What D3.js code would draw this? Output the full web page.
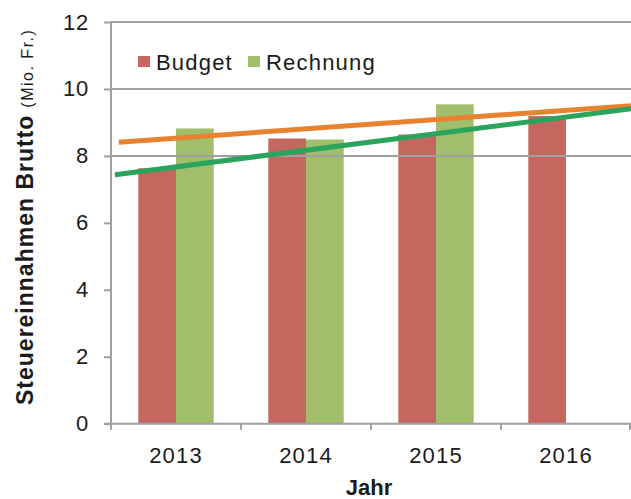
<!DOCTYPE html>
<html>
<head>
<meta charset="utf-8">
<script src="https://cdn.jsdelivr.net/npm/d3@7"></script>
<style>
    html, body { margin: 0; padding: 0; background: #fff; }
    svg { display: block; font-family: "Liberation Sans", Arial, Helvetica, sans-serif; }
</style>
</head>
<body>
<svg id="chart" width="631" height="499"></svg>
<script>
// Data (Mio. Fr.)
const years = ["2013", "2014", "2015", "2016"];
const budget = [7.63, 8.52, 8.64, 9.19];
const rechnung = [8.82, 8.49, 9.54, null];
const seriesNames = ["Budget", "Rechnung"];
const yTicks = [0, 2, 4, 6, 8, 10, 12];
const gridValues = [8, 10, 12];

// Trend lines: [year position, value] at both ends
const trendBudgetYears = [2012.53, 2016.5];
const trendBudgetValues = [7.44, 9.41];
const trendRechnungYears = [2012.56, 2016.5];
const trendRechnungValues = [8.41, 9.50];

const dimensions = {
    width: 631,
    height: 499,
    margin: { top: 22, bottom: 76, left: 111, right: 0 },
};
const plotBottom = dimensions.height - dimensions.margin.bottom + 0.7;

const colors = {
    Budget: "#c4685f",
    Rechnung: "#a0be6b",
    trendBudget: "#2aa35c",
    trendRechnung: "#e8822f",
    axis: "#a0a0a0",
    text: "#1a1a1a",
};

const svg = d3.select("#chart");

const xScale = d3.scaleBand()
    .domain(years)
    .range([dimensions.margin.left, dimensions.width - dimensions.margin.right])
    .paddingInner(0.42)
    .paddingOuter(0.21);

const xSub = d3.scaleBand()
    .domain(seriesNames)
    .range([0, xScale.bandwidth()]);

const xYear = d3.scaleLinear()
    .domain([2012.5, 2016.5])
    .range([dimensions.margin.left, dimensions.width - dimensions.margin.right]);

const yScale = d3.scaleLinear()
    .domain([0, 12])
    .range([plotBottom, dimensions.margin.top]);

// Bars
const rows = years.map((y, i) => ({ year: y, Budget: budget[i], Rechnung: rechnung[i] }));

const groups = svg.append("g").selectAll("g")
    .data(rows)
    .enter()
    .append("g")
    .attr("transform", d => `translate(${xScale(d.year)},0)`);

groups.selectAll("rect")
    .data(d => seriesNames.filter(s => d[s] != null).map(s => ({ key: s, value: d[s] })))
    .enter()
    .append("rect")
    .attr("x", d => xSub(d.key))
    .attr("width", xSub.bandwidth())
    .attr("y", d => yScale(d.value))
    .attr("height", d => yScale(0) - yScale(d.value))
    .attr("fill", d => colors[d.key]);

// Gridlines (only upper ones are drawn in the original)
svg.append("g")
    .selectAll("line")
    .data(gridValues)
    .enter()
    .append("line")
    .attr("x1", dimensions.margin.left)
    .attr("x2", dimensions.width)
    .attr("y1", d => yScale(d))
    .attr("y2", d => yScale(d))
    .attr("stroke", colors.axis)
    .attr("stroke-width", 2);

// Y axis
const yAxis = svg.append("g")
    .attr("transform", `translate(${dimensions.margin.left},0)`)
    .call(d3.axisLeft(yScale).tickValues(yTicks).tickSize(7).tickPadding(15).tickFormat(d3.format("d")));
yAxis.select(".domain").remove();
yAxis.append("line")
    .attr("x1", 0).attr("x2", 0)
    .attr("y1", yScale(12)).attr("y2", plotBottom + 6)
    .attr("stroke", colors.axis).attr("stroke-width", 2);
yAxis.selectAll(".tick line").attr("stroke", colors.axis).attr("stroke-width", 2);
yAxis.selectAll(".tick text")
    .attr("fill", colors.text)
    .style("font-size", "22px")
    .style("letter-spacing", "0.8px");

// X axis
const xAxis = svg.append("g")
    .attr("transform", `translate(0,${plotBottom})`);
xAxis.append("line")
    .attr("x1", dimensions.margin.left - 7).attr("x2", dimensions.width)
    .attr("stroke", colors.axis).attr("stroke-width", 2);
xAxis.selectAll("line.tick")
    .data(years.slice(1).concat(["end"]))
    .enter()
    .append("line")
    .attr("class", "tick")
    .attr("x1", d => d === "end" ? dimensions.width - 1 : xScale(d) - xScale.step() * 0.21)
    .attr("x2", d => d === "end" ? dimensions.width - 1 : xScale(d) - xScale.step() * 0.21)
    .attr("y1", 0).attr("y2", 6)
    .attr("stroke", colors.axis).attr("stroke-width", 2);
xAxis.selectAll("text")
    .data(years)
    .enter()
    .append("text")
    .attr("x", d => xScale(d) + xScale.bandwidth() / 2)
    .attr("y", 39)
    .attr("text-anchor", "middle")
    .attr("fill", colors.text)
    .style("font-size", "22px")
    .style("letter-spacing", "1.2px")
    .text(d => d);

// Trend lines
const line = d3.line()
    .x(d => xYear(d[0]))
    .y(d => yScale(d[1]));

svg.append("path")
    .datum(trendRechnungYears.map((y, i) => [y, trendRechnungValues[i]]))
    .attr("d", line)
    .attr("fill", "none")
    .attr("stroke", colors.trendRechnung)
    .attr("stroke-width", 5);

svg.append("path")
    .datum(trendBudgetYears.map((y, i) => [y, trendBudgetValues[i]]))
    .attr("d", line)
    .attr("fill", "none")
    .attr("stroke", colors.trendBudget)
    .attr("stroke-width", 5);

// Legend
const legendX = [138, 248];
const legend = svg.append("g").selectAll("g")
    .data(seriesNames)
    .enter()
    .append("g")
    .attr("transform", (d, i) => `translate(${legendX[i]},56)`);
legend.append("rect")
    .attr("width", 12).attr("height", 11)
    .attr("fill", d => colors[d]);
legend.append("text")
    .attr("x", 18).attr("y", 13.5)
    .attr("fill", colors.text)
    .style("font-size", "22px")
    .style("letter-spacing", "1.2px")
    .text(d => d);

// Axis titles
const yTitle = svg.append("text")
    .attr("transform", "translate(33,405) rotate(-90)")
    .attr("fill", colors.text);
yTitle.append("tspan")
    .style("font-size", "23px")
    .style("font-weight", "bold")
    .style("letter-spacing", "1px")
    .text("Steuereinnahmen Brutto");
yTitle.append("tspan")
    .attr("dx", 7)
    .style("font-size", "16px")
    .style("letter-spacing", "1.5px")
    .text("(Mio. Fr.)");

svg.append("text")
    .attr("x", 369)
    .attr("y", 495)
    .attr("text-anchor", "middle")
    .attr("fill", colors.text)
    .style("font-size", "22px")
    .style("font-weight", "bold")
    .text("Jahr");
</script>
</body>
</html>
